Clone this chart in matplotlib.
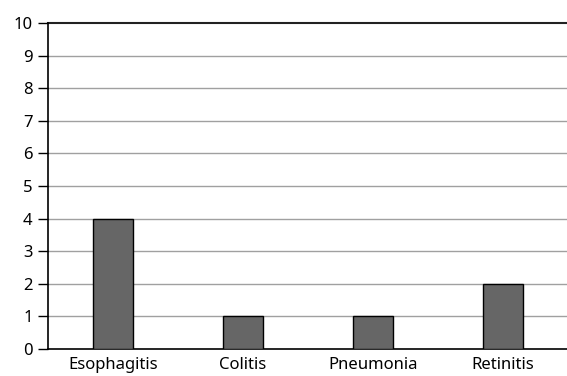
import matplotlib.pyplot as plt
import numpy as np

# data
categories = ['Esophagitis', 'Colitis', 'Pneumonia', 'Retinitis']
values = [4, 1, 1, 2]
yticks = list(range(0, 11))

plt.rcParams['font.family'] = ['Noto Sans', 'DejaVu Sans']

fig = plt.figure(figsize=(5.67, 3.76), dpi=100)
ax = fig.add_axes([48 / 567, 27 / 376, 520 / 567, 326 / 376])

x = np.arange(len(categories))
ax.bar(x, values, width=0.31, color='#666666', edgecolor='black', linewidth=1.0, zorder=3)

ax.set_xlim(-0.5, len(categories) - 0.5)
ax.set_ylim(0, 10)
ax.set_yticks(yticks)
ax.set_xticks(x)
ax.set_xticklabels(categories, fontsize=12)
ax.tick_params(axis='y', labelsize=12, length=7, width=1, direction='out', pad=4)
ax.tick_params(axis='x', length=0, pad=6)

for yv in yticks[1:-1]:
    ax.axhline(yv, color='#a0a0a0', lw=1, zorder=1)
ax.axhline(10, color='#222222', lw=1.5, zorder=1, clip_on=False)

for s in ['top', 'right']:
    ax.spines[s].set_visible(False)
ax.spines['left'].set_color('black')
ax.spines['bottom'].set_color('black')
ax.spines['left'].set_linewidth(1.2)
ax.spines['bottom'].set_linewidth(1.2)

fig.savefig('out.png', dpi=100)
